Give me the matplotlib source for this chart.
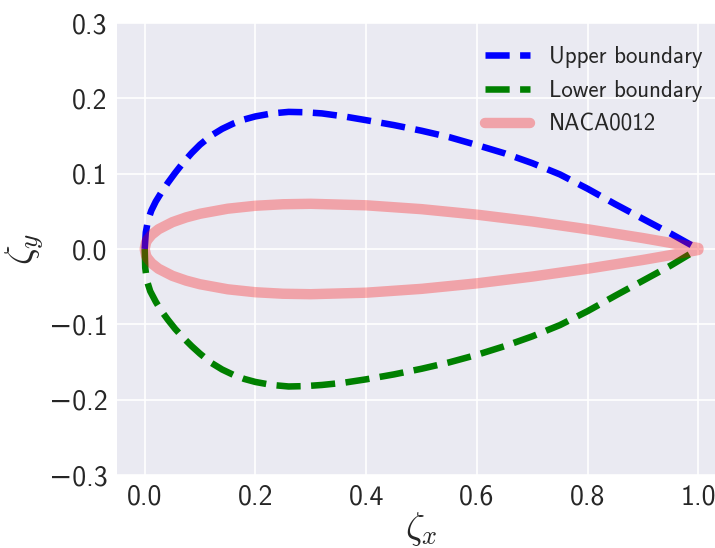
import matplotlib
matplotlib.use("Agg")
import matplotlib.pyplot as plt

# ---- data ----
upper_x = [0.0, 0.002, 0.006, 0.012, 0.02, 0.03, 0.042, 0.055, 0.07, 0.085, 0.10, 0.12,
           0.14, 0.16, 0.18, 0.20, 0.23, 0.26, 0.29, 0.32, 0.36, 0.40, 0.45, 0.50,
           0.55, 0.60, 0.65, 0.70, 0.75, 0.80, 0.85, 0.90, 0.95, 1.0]
upper_y = [0.0, 0.022, 0.038, 0.051, 0.063, 0.075, 0.088, 0.101, 0.115, 0.1275, 0.1385, 0.1505,
           0.1595, 0.1665, 0.172, 0.176, 0.180, 0.182, 0.1815, 0.180, 0.176, 0.171, 0.1645, 0.157,
           0.1485, 0.138, 0.127, 0.114, 0.099, 0.080, 0.0595, 0.040, 0.0205, 0.0]

lower_x = [0.0, 0.001, 0.004, 0.010, 0.02, 0.03, 0.042, 0.055, 0.07, 0.085, 0.10, 0.12,
           0.14, 0.16, 0.18, 0.20, 0.23, 0.26, 0.29, 0.32, 0.36, 0.40, 0.45, 0.50,
           0.55, 0.60, 0.65, 0.70, 0.75, 0.80, 0.85, 0.90, 0.95, 1.0]
lower_y = [0.0, -0.025, -0.042, -0.056, -0.070, -0.082, -0.094, -0.106, -0.118, -0.129, -0.139, -0.151,
           -0.160, -0.167, -0.1725, -0.1765, -0.1805, -0.1825, -0.182, -0.1805, -0.1775, -0.173, -0.1665, -0.159,
           -0.1505, -0.1405, -0.129, -0.116, -0.101, -0.0825, -0.062, -0.042, -0.022, 0.0]

naca_x = [1.0, 0.95, 0.9, 0.8, 0.7, 0.6, 0.5, 0.4, 0.3, 0.25, 0.2, 0.15, 0.1, 0.075, 0.05,
          0.025, 0.0125, 0.005, 0.0025, 0.0,
          0.0025, 0.005, 0.0125, 0.025, 0.05, 0.075, 0.1, 0.15, 0.2, 0.25, 0.3, 0.4, 0.5, 0.6,
          0.7, 0.8, 0.9, 0.95, 1.0]
naca_y = [0.0013, 0.0081, 0.0145, 0.0262, 0.0366, 0.0456, 0.0529, 0.0580, 0.0600, 0.0594,
          0.0574, 0.0535, 0.0468, 0.0420, 0.0356, 0.0262, 0.0189, 0.0122, 0.0087, 0.0,
          -0.0087, -0.0122, -0.0189, -0.0262, -0.0356, -0.0420, -0.0468, -0.0535, -0.0574, -0.0594,
          -0.0600, -0.0580, -0.0529, -0.0456, -0.0366, -0.0262, -0.0145, -0.0081, -0.0013]

x_ticks = [0.0, 0.2, 0.4, 0.6, 0.8, 1.0]
y_ticks = [-0.3, -0.2, -0.1, 0.0, 0.1, 0.2, 0.3]
labels = ["Upper boundary", "Lower boundary", "NACA0012"]

plt.rcParams['font.family'] = ['cmss10', 'DejaVu Sans']
plt.rcParams['mathtext.fontset'] = 'cm'
plt.rcParams['axes.unicode_minus'] = True


def tick_text(v):
    s = f"{abs(v):.1f}"
    return ("\u2212" + s) if v < 0 else s


fig = plt.figure(figsize=(7.15, 5.48), dpi=100)
ax = fig.add_axes([117/715, 73/548, 609/715, 452/548])
ax.set_facecolor('#EAEAF2')
for s in ax.spines.values():
    s.set_visible(False)
ax.grid(True, color='white', linewidth=1.2)
ax.set_axisbelow(True)

ax.plot(upper_x, upper_y, color='blue', linestyle='--', linewidth=4.7, label=labels[0])
ax.plot(lower_x, lower_y, color='green', linestyle='--', linewidth=4.7, label=labels[1])
ax.plot(naca_x, naca_y, color='red', alpha=0.3, linewidth=7.5, solid_capstyle='round',
        solid_joinstyle='round', label=labels[2])

ax.set_xlim(-0.05, 1.05)
ax.set_ylim(-0.3, 0.3)
ax.set_xticks(x_ticks)
ax.set_yticks(y_ticks)
ax.set_xticklabels([tick_text(v) for v in x_ticks])
ax.set_yticklabels([tick_text(v) for v in y_ticks])
ax.tick_params(axis='both', length=0, labelsize=20, colors='#262626', pad=7)

ax.set_xlabel(r'$\zeta_x$', fontsize=27, color='#262626', labelpad=0)
ax.set_ylabel(r'$\zeta_y$', fontsize=28, color='#262626', labelpad=2)

leg = ax.legend(loc='upper right', frameon=False, fontsize=16.5, bbox_to_anchor=(0.995, 0.995),
                handlelength=2.0, labelspacing=0.52)
for t in leg.get_texts():
    t.set_color('#262626')

fig.savefig('out.png', dpi=100)
